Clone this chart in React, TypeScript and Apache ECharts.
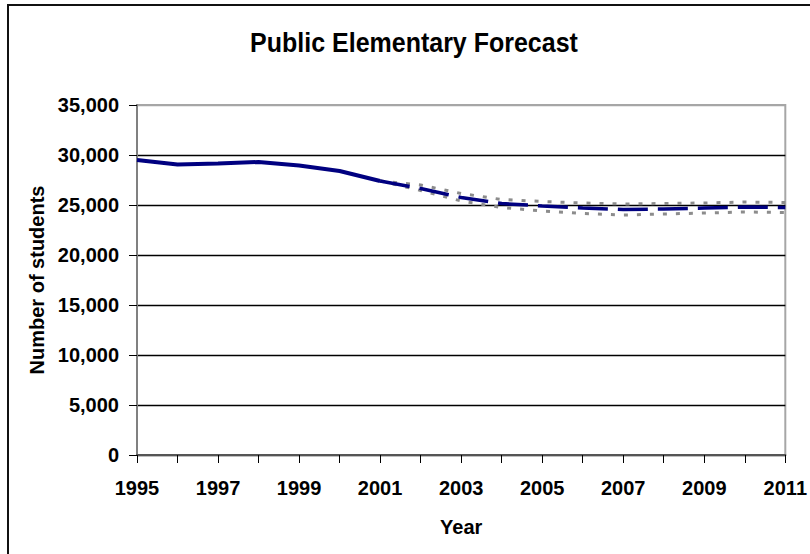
import React, { useEffect, useRef } from "react";
import * as echarts from "echarts";

// Enrollment history and forecast, public elementary schools
const years = [
  "1995", "1996", "1997", "1998", "1999", "2000", "2001", "2002", "2003",
  "2004", "2005", "2006", "2007", "2008", "2009", "2010", "2011",
];
const actual = [29500, 29050, 29150, 29300, 28950, 28400, 27400, null, null, null, null, null, null, null, null, null, null];
const forecast = [null, null, null, null, null, null, 27400, 26650, 25750, 25150, 24900, 24700, 24550, 24600, 24700, 24800, 24750];
const upperBound = [null, null, null, null, null, null, 27400, 27000, 26150, 25550, 25350, 25200, 25100, 25150, 25200, 25300, 25250];
const lowerBound = [null, null, null, null, null, null, 27400, 26450, 25400, 24750, 24400, 24150, 24000, 24100, 24200, 24300, 24250];
const yTicks = { min: 0, max: 35000, interval: 5000 };

const FONT = "'Liberation Sans', Arial, Helvetica, sans-serif";
const NAVY = "#000080";
const GRAY = "#8c8c8c";

export default function App() {
  const ref = useRef<HTMLDivElement>(null);

  useEffect(() => {
    document.body.style.margin = "0";
    if (!ref.current) return;
    const chart = echarts.init(ref.current, null, { renderer: "svg" });
    const fmt = (v: number) => v.toLocaleString("en-US");

    chart.setOption({
      animation: false,
      backgroundColor: "#ffffff",
      textStyle: { fontFamily: FONT },
      graphic: [
        {
          type: "rect",
          shape: { x: 8, y: 5, width: 820, height: 570 },
          style: { fill: "none", stroke: "#111", lineWidth: 2 },
          silent: true,
        },
        {
          type: "text",
          x: 414,
          y: 43,
          scaleY: 1.12,
          style: {
            text: "Public Elementary Forecast",
            fontFamily: FONT,
            fontSize: 25,
            fontWeight: "bold",
            fill: "#000",
            align: "center",
            verticalAlign: "middle",
          },
        },
      ],
      grid: {
        left: 137,
        right: 24,
        top: 105,
        bottom: 99,
        show: true,
        borderColor: "#a6a6a6",
        borderWidth: 2,
      },
      xAxis: {
        type: "category",
        data: years,
        boundaryGap: false,
        name: "Year",
        nameLocation: "middle",
        nameGap: 62,
        nameTextStyle: { fontFamily: FONT, fontSize: 20, fontWeight: "bold", color: "#000" },
        axisLine: { lineStyle: { color: "#555", width: 2 } },
        axisTick: { show: true, interval: 0, length: 8, lineStyle: { color: "#000", width: 1 } },
        axisLabel: {
          interval: 1,
          margin: 23,
          fontFamily: FONT,
          fontSize: 20,
          fontWeight: "bold",
          color: "#000",
        },
        splitLine: { show: false },
      },
      yAxis: {
        type: "value",
        min: yTicks.min,
        max: yTicks.max,
        interval: yTicks.interval,
        name: "Number of students",
        nameLocation: "middle",
        nameRotate: 90,
        nameGap: 90,
        nameTextStyle: { fontFamily: FONT, fontSize: 20, fontWeight: "bold", color: "#000" },
        axisLine: { show: true, lineStyle: { color: "#808080", width: 2 } },
        axisTick: { show: true, length: 8, lineStyle: { color: "#000", width: 1 } },
        axisLabel: {
          margin: 18,
          fontFamily: FONT,
          fontSize: 20,
          fontWeight: "bold",
          color: "#000",
          formatter: fmt,
        },
        splitLine: {
          show: true,
          lineStyle: {
            color: ["#000", "#000", "#000", "#000", "#000", "#000", "#000", "#a6a6a6"],
            width: 1.3,
          },
        },
      },
      series: [
        {
          name: "Upper",
          type: "line",
          data: upperBound,
          symbol: "none",
          lineStyle: { color: GRAY, width: 3, type: [4, 9] },
        },
        {
          name: "Lower",
          type: "line",
          data: lowerBound,
          symbol: "none",
          lineStyle: { color: GRAY, width: 3, type: [4, 9] },
        },
        {
          name: "Forecast",
          type: "line",
          data: forecast,
          symbol: "none",
          lineStyle: { color: NAVY, width: 3.5, type: [30, 10] },
        },
        {
          name: "Actual",
          type: "line",
          data: actual,
          symbol: "none",
          lineStyle: { color: NAVY, width: 4 },
        },
      ],
    });

    return () => chart.dispose();
  }, []);

  return <div ref={ref} style={{ width: 810, height: 554 }} />;
}
